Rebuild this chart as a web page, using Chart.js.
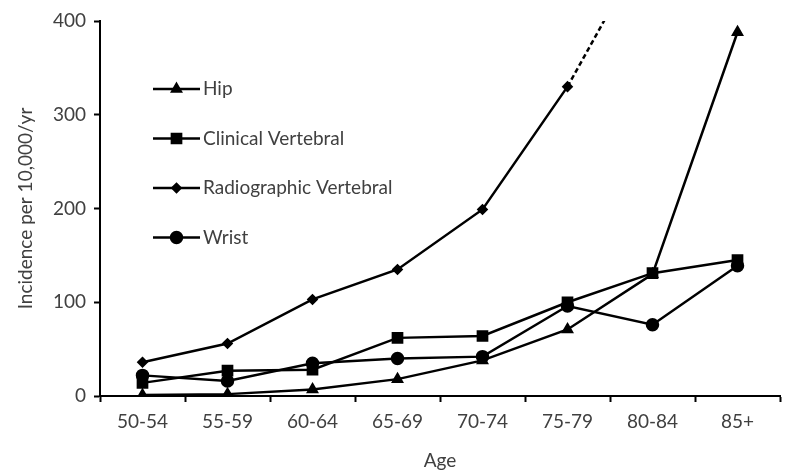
<!DOCTYPE html>
<html>
<head>
<meta charset="utf-8">
<script src="https://cdn.jsdelivr.net/npm/chart.js@4"></script>
<style>
  html, body { margin: 0; padding: 0; background: #fff; }
  #wrap { width: 800px; height: 476px; }
</style>
</head>
<body>
<div id="wrap"><canvas id="fxChart"></canvas></div>
<script>
const ageGroups = ['50-54', '55-59', '60-64', '65-69', '70-74', '75-79', '80-84', '85+'];
const hip = [1, 2, 7, 18, 38, 71, 130, 388];
const clinicalVert = [14, 27, 28, 62, 64, 100, 131, 145];
const radioVert = [36, 56, 103, 135, 199, 330, null, null];
const radioExtrap = [null, null, null, null, null, 330, 493, null];
const wrist = [22, 16, 35, 40, 42, 96, 76, 139];
const yTicks = [0, 100, 200, 300, 400];

const textColor = '#404040';
const fontFam = 'Lato, "Open Sans", sans-serif';

function series(label, data, style, radius) {
  return {
    label: label,
    data: data,
    borderColor: '#000',
    backgroundColor: '#000',
    borderWidth: 2.5,
    pointStyle: style,
    pointRadius: radius,
    pointHoverRadius: radius,
    tension: 0,
    clip: 0
  };
}

// legend drawn inside the plot area, like the original
const innerLegend = {
  id: 'innerLegend',
  afterDraw(chart) {
    const ctx = chart.ctx;
    const rows = chart.data.datasets.filter(d => !d.hideInLegend);
    const x0 = 153, x1 = 200, yStart = 89, gap = 49.5;
    ctx.save();
    rows.forEach((d, i) => {
      const y = yStart + i * gap;
      ctx.strokeStyle = '#000';
      ctx.lineWidth = 2.5;
      ctx.beginPath();
      ctx.moveTo(x0, y);
      ctx.lineTo(x1, y);
      ctx.stroke();
      Chart.helpers.drawPoint(ctx, {
        pointStyle: d.pointStyle,
        radius: d.pointRadius,
        rotation: 0,
        borderWidth: 1
      }, (x0 + x1) / 2, y);
      ctx.fillStyle = '#000';
      ctx.fill();
      ctx.fillStyle = textColor;
      ctx.font = '19px ' + fontFam;
      ctx.textBaseline = 'middle';
      ctx.fillText(d.label, x1 + 3, y);
    });
    ctx.restore();
  }
};

const extra = series('', radioExtrap, 'circle', 0);
extra.borderDash = [5, 3];
extra.hideInLegend = true;

new Chart(document.getElementById('fxChart'), {
  type: 'line',
  data: {
    labels: ageGroups,
    datasets: [
      series('Hip', hip, 'triangle', 5),
      series('Clinical Vertebral', clinicalVert, 'rect', 6.5),
      series('Radiographic Vertebral', radioVert, 'rectRot', 4),
      series('Wrist', wrist, 'circle', 5.5),
      extra
    ]
  },
  options: {
    responsive: true,
    maintainAspectRatio: false,
    animation: false,
    spanGaps: false,
    layout: { padding: { top: 21, right: 20, left: 0, bottom: 0 } },
    plugins: {
      legend: { display: false },
      tooltip: { enabled: false }
    },
    scales: {
      x: {
        offset: true,
        grid: {
          offset: true,
          drawOnChartArea: false,
          drawTicks: true,
          tickLength: 6,
          tickWidth: 2,
          tickColor: '#000'
        },
        border: { color: '#000', width: 2 },
        ticks: { color: textColor, font: { family: fontFam, size: 19 }, padding: 8, maxRotation: 0 },
        title: { display: true, text: 'Age', color: textColor, font: { family: fontFam, size: 19 }, padding: { top: 6 } },
        afterFit(axis) { axis.height = 80; }
      },
      y: {
        min: 0,
        max: 400,
        afterBuildTicks(axis) { axis.ticks = yTicks.map(v => ({ value: v })); },
        grid: {
          drawOnChartArea: false,
          drawTicks: true,
          tickLength: 6,
          tickWidth: 2,
          tickColor: '#000'
        },
        border: { color: '#000', width: 2 },
        ticks: { color: textColor, font: { family: fontFam, size: 19 }, padding: 8 },
        title: { display: true, text: 'Incidence per 10,000/yr', color: textColor, font: { family: fontFam, size: 19 }, padding: { top: 14, bottom: 4 } },
        afterFit(axis) { axis.width = 100; }
      }
    }
  },
  plugins: [innerLegend]
});
</script>
</body>
</html>
